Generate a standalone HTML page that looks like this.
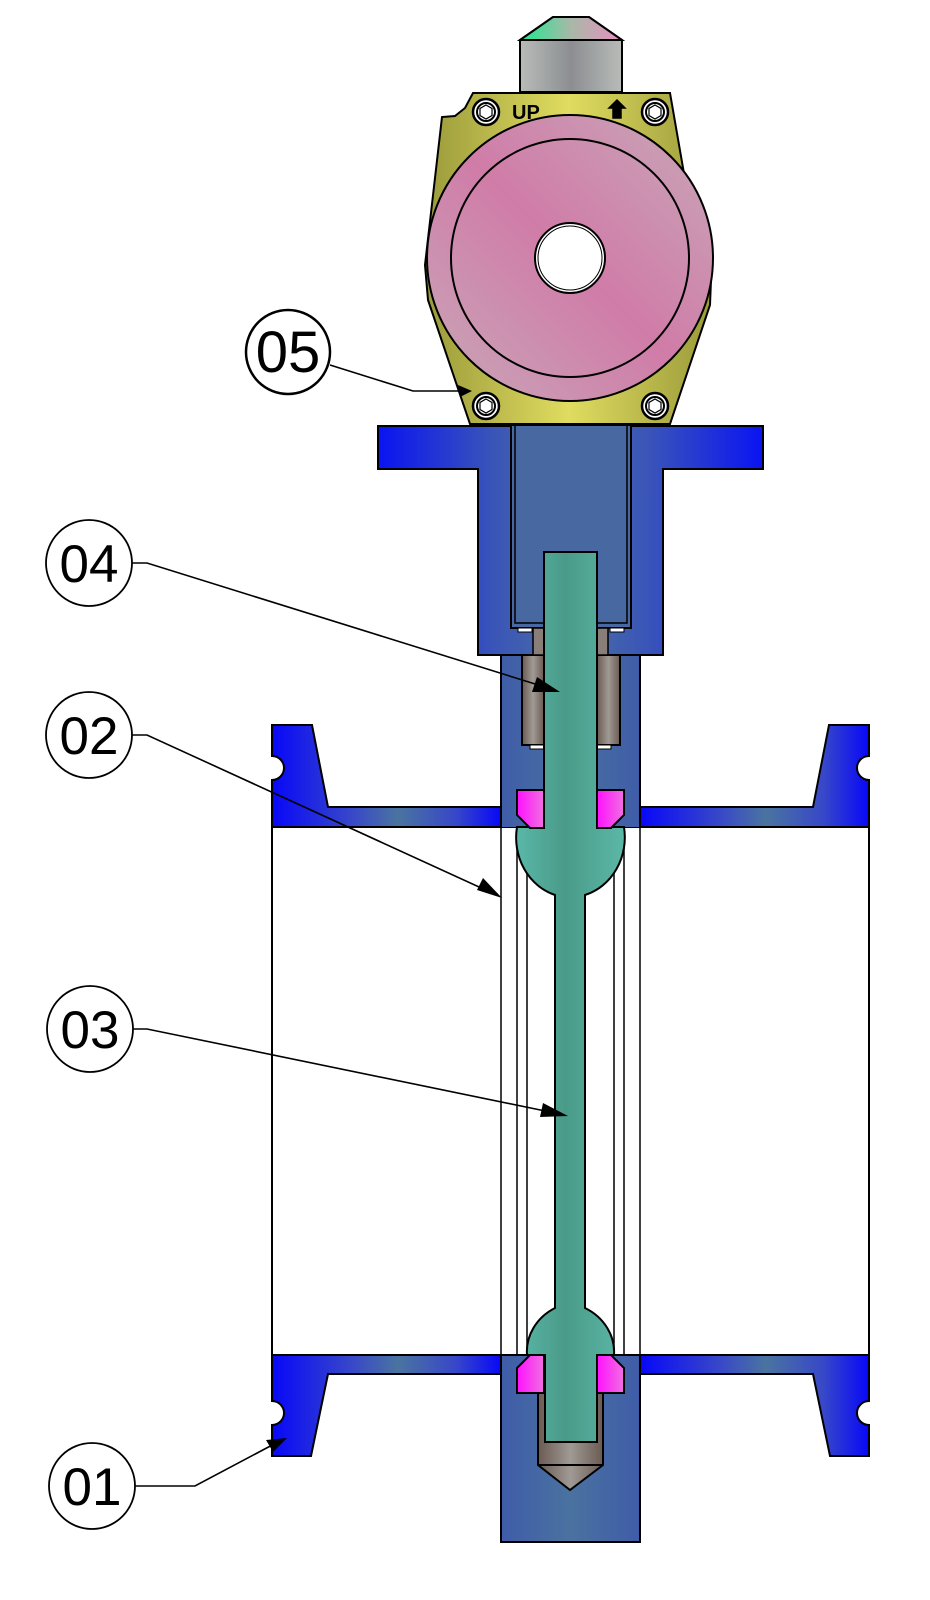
<!DOCTYPE html>
<html><head><meta charset="utf-8"><style>html,body{margin:0;padding:0;background:#fff}svg{display:block}</style></head>
<body>
<svg width="930" height="1600" viewBox="0 0 930 1600" xmlns="http://www.w3.org/2000/svg">
<defs>
<linearGradient id="blL" x1="0" x2="1"><stop offset="0" stop-color="#0808f8"/><stop offset="0.35" stop-color="#3848c8"/><stop offset="0.55" stop-color="#4a74a0"/><stop offset="0.8" stop-color="#3848c8"/><stop offset="1" stop-color="#0808f8"/></linearGradient>
<linearGradient id="col" x1="0" x2="1"><stop offset="0" stop-color="#3f5ca8"/><stop offset="0.5" stop-color="#4a72a0"/><stop offset="1" stop-color="#3f5ca8"/></linearGradient>
<linearGradient id="top" x1="0" x2="1"><stop offset="0" stop-color="#0a14f2"/><stop offset="0.3" stop-color="#3a55b8"/><stop offset="0.5" stop-color="#4a6ea2"/><stop offset="0.7" stop-color="#3a55b8"/><stop offset="1" stop-color="#0a14f2"/></linearGradient>
<linearGradient id="gr" x1="0" x2="1"><stop offset="0" stop-color="#5ab8a8"/><stop offset="0.45" stop-color="#4a9a88"/><stop offset="1" stop-color="#5cb8a8"/></linearGradient>
<linearGradient id="pk" x1="0" x2="1"><stop offset="0" stop-color="#ff10ff"/><stop offset="1" stop-color="#f070e0"/></linearGradient>
<linearGradient id="br" x1="0" x2="1"><stop offset="0" stop-color="#6a5a52"/><stop offset="0.5" stop-color="#a09a95"/><stop offset="1" stop-color="#6a5a52"/></linearGradient>
<linearGradient id="yl" x1="0" x2="1"><stop offset="0" stop-color="#9a9a3a"/><stop offset="0.5" stop-color="#e0dc60"/><stop offset="1" stop-color="#9a9a3a"/></linearGradient>
<linearGradient id="pi" x1="0" y1="1" x2="1" y2="0"><stop offset="0" stop-color="#c8a8b8"/><stop offset="0.5" stop-color="#d07ca8"/><stop offset="1" stop-color="#c8a8b8"/></linearGradient>
<linearGradient id="cap" x1="0" x2="1"><stop offset="0" stop-color="#b8bcb8"/><stop offset="0.5" stop-color="#8c8e92"/><stop offset="1" stop-color="#b8bcb8"/></linearGradient>
<linearGradient id="capt" x1="0" x2="1"><stop offset="0" stop-color="#20e890"/><stop offset="0.5" stop-color="#a8b8a8"/><stop offset="1" stop-color="#e890c0"/></linearGradient>
</defs>

<g stroke="#000" stroke-width="2" stroke-linejoin="miter">
<rect x="272" y="827" width="597" height="528" fill="#fff"/>
<path d="M272 725 H312 L328 807 H501 V827 H272 V780 A12 12 0 0 0 272 756 Z" fill="url(#blL)"/>
<path d="M869 725 H829 L813 807 H640 V827 H869 V780 A12 12 0 0 1 869 756 Z" fill="url(#blL)"/>
<path d="M272 1355 H501 V1374 H328 L311 1456 H272 V1425 A12 12 0 0 0 272 1401 Z" fill="url(#blL)"/>
<path d="M869 1355 H640 V1374 H813 L830 1456 H869 V1425 A12 12 0 0 1 869 1401 Z" fill="url(#blL)"/>
<line x1="501" y1="827" x2="501" y2="1355" stroke-width="1.5"/>
<line x1="640" y1="827" x2="640" y2="1355" stroke-width="1.5"/>
<line x1="517" y1="827" x2="517" y2="1355" stroke-width="1.5"/>
<line x1="527" y1="827" x2="527" y2="1355" stroke-width="1.5"/>
<line x1="614" y1="827" x2="614" y2="1355" stroke-width="1.5"/>
<line x1="624" y1="827" x2="624" y2="1355" stroke-width="1.5"/>
<path d="M378 426 H763 V469 H663 V655 H640 V827 H501 V655 H478 V469 H378 Z" fill="url(#top)"/>
<path d="M501 655 H640 V827 H501 Z" fill="url(#col)" stroke="none"/>
<path d="M501 655 V827 M640 655 V827 M478 655 H663" fill="none"/>
<path d="M511 426 V628 H631 V426" fill="#4868a2" stroke-width="2"/>
<path d="M515 426 V623 H627 V426" fill="none" stroke-width="1.5"/>
<rect x="501" y="1355" width="139" height="187" fill="url(#col)"/>
<rect x="522" y="655" width="22" height="90" fill="url(#br)"/>
<rect x="597" y="655" width="23" height="90" fill="url(#br)"/>
<rect x="533" y="628" width="11" height="27" fill="#8a7e78" stroke-width="1.5"/>
<rect x="597" y="628" width="11" height="27" fill="#8a7e78" stroke-width="1.5"/>
<rect x="518" y="628" width="14" height="4" fill="#fff" stroke-width="1"/>
<rect x="610" y="628" width="14" height="4" fill="#fff" stroke-width="1"/>
<rect x="530" y="745" width="14" height="4" fill="#fff" stroke-width="1"/>
<rect x="597" y="745" width="14" height="4" fill="#fff" stroke-width="1"/>
<path d="M538 1393 H603 V1465 L570 1490 L538 1465 Z" fill="url(#br)"/>
<line x1="538" y1="1465" x2="603" y2="1465"/>
<path d="M544 552 H597 V827 H624 A55 60 0 0 1 585 895 V1308 A55 50 0 0 1 614 1355 H597 V1442 H545 V1355 H527 A55 50 0 0 1 555 1308 V895 A55 60 0 0 1 517 827 H544 Z" fill="url(#gr)"/>
<path d="M517 790 H544 V828 H530 L517 815 Z" fill="url(#pk)"/>
<path d="M624 790 H597 V828 H611 L624 815 Z" fill="url(#pk)"/>
<path d="M517 1393 H544 V1355 H530 L517 1368 Z" fill="url(#pk)"/>
<path d="M624 1393 H597 V1355 H611 L624 1368 Z" fill="url(#pk)"/>

<path d="M520 92 V40 L553 17 H589 L622 40 V92 Z" fill="url(#cap)"/>
<path d="M520 40 L553 17 H589 L622 40 Z" fill="url(#capt)"/>
<path d="M473 93 H670 L686 185 L712 255 L710 305 L670 424 H470 L428 300 L425 265 L442 117 L455 116 L465 108 Z" fill="url(#yl)"/>
<circle cx="570" cy="258" r="143" fill="url(#pi)"/>
<circle cx="570" cy="258" r="119" fill="none"/>
<circle cx="570" cy="258" r="35" fill="#fff"/>
<circle cx="570" cy="258" r="32" fill="none" stroke-width="1"/>
<g fill="#fff">
<circle cx="486" cy="112" r="13" stroke-width="2.5"/><circle cx="486" cy="112" r="9"/>
<circle cx="655" cy="112" r="13" stroke-width="2.5"/><circle cx="655" cy="112" r="9"/>
<circle cx="486" cy="406" r="13" stroke-width="2.5"/><circle cx="486" cy="406" r="9"/>
<circle cx="655" cy="406" r="13" stroke-width="2.5"/><circle cx="655" cy="406" r="9"/>
</g>
<g fill="none" stroke-width="1.2">
<polygon points="486,105 492,108.5 492,115.5 486,119 480,115.5 480,108.5"/>
<polygon points="655,105 661,108.5 661,115.5 655,119 649,115.5 649,108.5"/>
<polygon points="486,399 492,402.5 492,409.5 486,413 480,409.5 480,402.5"/>
<polygon points="655,399 661,402.5 661,409.5 655,413 649,409.5 649,402.5"/>
</g>
<path d="M617 100 L625 108 H621 V118 H613 V108 H609 Z" fill="#000" stroke-width="1.5"/>
</g>
<text x="512" y="119" font-family="Liberation Sans, sans-serif" font-weight="bold" font-size="20" fill="#000">UP</text>

<g stroke="#000" stroke-width="1.6" fill="none">
<path d="M330 365 L413 391 H462"/>
<path d="M132 563 H147 L548 688"/>
<path d="M132 735 H147 L490 892"/>
<path d="M132 1029 H147 L555 1113"/>
<path d="M133 1486 H195 L276 1443"/>
</g>
<g fill="#000">
<polygon points="472,391 458,385 460,397"/>
<polygon points="560,692 537,677 532,692"/>
<polygon points="502,898 483,878 477,890"/>
<polygon points="568,1116 543,1103 540,1117"/>
<polygon points="287,1438 266,1440 273,1452"/>
</g>

<g stroke="#000" fill="#fff">
<circle cx="288" cy="352" r="42" stroke-width="2.5"/>
<circle cx="89" cy="563" r="43" stroke-width="1.8"/>
<circle cx="89" cy="735" r="43" stroke-width="1.8"/>
<circle cx="90" cy="1029" r="43" stroke-width="1.8"/>
<circle cx="92" cy="1486" r="43" stroke-width="1.8"/>
</g>
<g font-family="Liberation Sans, sans-serif" font-size="53" text-anchor="middle" fill="#000">
<text x="288" y="372" font-size="58">05</text>
<text x="89" y="582">04</text>
<text x="89" y="754">02</text>
<text x="90" y="1048">03</text>
<text x="92" y="1505">01</text>
</g>
</svg>
</body></html>
